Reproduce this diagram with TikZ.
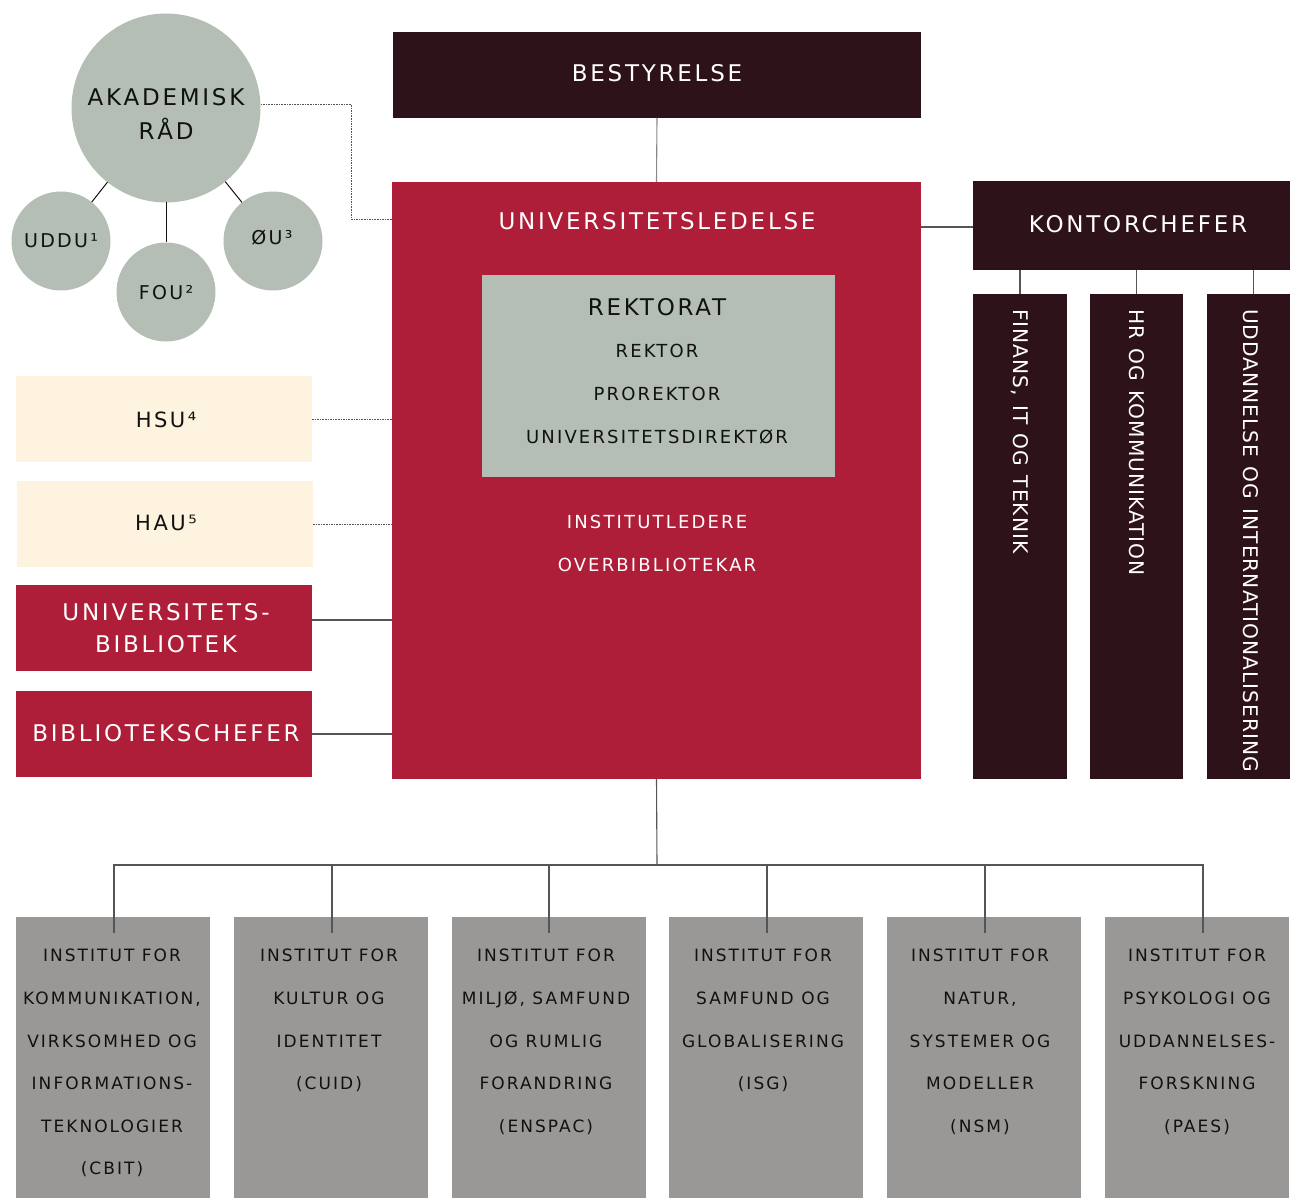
\documentclass[tikz,border=0pt]{standalone}
\usepackage{fontspec}
\setmainfont{DejaVu Sans}[LetterSpace=12]
\newfontfamily\vfont{DejaVu Sans}[LetterSpace=5,WordSpace=1.25]
\definecolor{darkm}{HTML}{2E1219}
\definecolor{unired}{HTML}{AE1E38}
\definecolor{sage}{HTML}{B5BEB4}
\definecolor{cream}{HTML}{FEF3DE}
\definecolor{instg}{HTML}{999896}
\definecolor{lnc}{HTML}{555555}
\definecolor{txt}{HTML}{111111}
\tikzset{
  boxx/.style={rectangle, inner sep=0pt, outer sep=0pt, anchor=north west},
  big/.style={font=\fontsize{23}{32}\selectfont},
  mid/.style={font=\fontsize{18}{43}\selectfont},
  small/.style={font=\fontsize{17}{42.6}\selectfont},
  vert/.style={font=\vfont\fontsize{20.2}{24}\selectfont},
  conn/.style={draw=lnc, line width=1.1pt},
  dotl/.style={draw=lnc, line width=1pt, dash pattern=on 1.6pt off 1pt},
  circ/.style={circle, fill=sage, inner sep=0pt, outer sep=0pt},
  tx/.style={inner sep=0pt, align=center},
}
\begin{document}
\begin{tikzpicture}[x=1pt,y=-1pt]
\useasboundingbox (0,0) rectangle (1290,1198);

% top
\node[boxx, fill=darkm, minimum width=528pt, minimum height=86pt] (best) at (393,32) {};
\node[tx, big, text=white] (bestt) at (657,73) {BESTYRELSE};

\node[boxx, fill=unired, minimum width=529pt, minimum height=597pt] (uni) at (392,182) {};
\node[tx, big, text=white] (unit) at (657,221) {UNIVERSITETSLEDELSE};

\node[boxx, fill=sage, minimum width=353pt, minimum height=202pt] (rek) at (482,275) {};
\node[tx, big, text=txt] (rekt) at (657,307) {REKTORAT};
\node[tx, mid, text=txt] (r1) at (657,351) {REKTOR};
\node[tx, mid, text=txt] (r2) at (657,394) {PROREKTOR};
\node[tx, mid, text=txt] (r3) at (657,437) {UNIVERSITETSDIREKTØR};
\node[tx, mid, text=white] (il) at (657,522) {INSTITUTLEDERE};
\node[tx, mid, text=white] (ob) at (657,565) {OVERBIBLIOTEKAR};

\draw[conn, draw=lnc!70] (best.south) -- (uni.north);

% kontorchefer
\node[boxx, fill=darkm, minimum width=317pt, minimum height=89pt] (kc) at (973,181) {};
\node[tx, big, text=white] (kct) at (1138,224) {KONTORCHEFER};
\draw[conn] ([yshift=-45pt]uni.north east) -- ([yshift=-46pt]kc.north west);

\node[boxx, fill=darkm, minimum width=94pt, minimum height=485pt] (k1) at (973,294) {};
\node[boxx, fill=darkm, minimum width=93pt, minimum height=485pt] (k2) at (1090,294) {};
\node[boxx, fill=darkm, minimum width=83pt, minimum height=485pt] (k3) at (1207,294) {};
\node[tx, vert, text=white, rotate=-90, anchor=west] (k1t) at (1020,309) {FINANS, IT OG TEKNIK};
\node[tx, vert, text=white, rotate=-90, anchor=west] (k2t) at (1137,309) {HR OG KOMMUNIKATION};
\node[tx, vert, text=white, rotate=-90, anchor=west] (k3t) at (1251,309) {UDDANNELSE OG INTERNATIONALISERING};
\draw[conn] (kc.south -| k1.north) -- (k1.north);
\draw[conn] (kc.south -| k2.north) -- (k2.north);
\draw[conn] ([xshift=5pt]kc.south -| k3.north) -- ([xshift=5pt]k3.north);

% circles
\node[circ, minimum size=189pt] (ak) at (166,108) {};
\node[tx, font=\fontsize{23}{34}\selectfont, text=txt] (akt) at (166,114) {AKADEMISK\\RÅD};
\node[circ, minimum size=99pt] (uddu) at (61,241) {};
\node[circ, minimum size=99pt] (fou) at (166,292) {};
\node[circ, minimum size=99pt] (oeu) at (273,241) {};
\node[tx, font=\fontsize{19}{22}\selectfont, text=txt] at (61,241) {UDDU¹};
\node[tx, font=\fontsize{19}{22}\selectfont, text=txt] at (166,293) {FOU²};
\node[tx, font=\fontsize{19}{22}\selectfont, text=txt] at (272,238) {ØU³};
\draw[line width=1pt, draw=txt] (ak) -- (uddu);
\draw[line width=1pt, draw=txt] (ak) -- (fou);
\draw[line width=1pt, draw=txt] (ak) -- (oeu);
\draw[dotl] ([yshift=3pt]ak.east) -- ++(91,0) |- ([yshift=-38pt]uni.north west);

% left boxes
\node[boxx, fill=cream, minimum width=296pt, minimum height=86pt] (hsu) at (16,376) {};
\node[tx, font=\fontsize{21}{26}\selectfont, text=txt] at (166,420) {HSU⁴};
\node[boxx, fill=cream, minimum width=296pt, minimum height=86pt] (hau) at (17,481) {};
\node[tx, font=\fontsize{21}{26}\selectfont, text=txt] at (166,523) {HAU⁵};
\node[boxx, fill=unired, minimum width=296pt, minimum height=86pt] (ub) at (16,585) {};
\node[tx, font=\fontsize{23}{32}\selectfont, text=white] at (166,628) {UNIVERSITETS-\\BIBLIOTEK};
\node[boxx, fill=unired, minimum width=296pt, minimum height=86pt] (bc) at (16,691) {};
\node[tx, big, text=white] at (166,733) {BIBLIOTEKSCHEFER};

\draw[dotl] (hsu.east) -- (hsu.east -| uni.west);
\draw[dotl] (hau.east) -- (hau.east -| uni.west);
\draw[conn] ([yshift=8pt]ub.east) -- ([yshift=8pt]ub.east -| uni.west);
\draw[conn] (bc.east) -- (bc.east -| uni.west);

% institutes
\node[boxx, fill=instg, minimum width=194pt, minimum height=281pt] (i1) at (16,917) {};
\node[boxx, fill=instg, minimum width=194pt, minimum height=281pt] (i2) at (234,917) {};
\node[boxx, fill=instg, minimum width=194pt, minimum height=281pt] (i3) at (452,917) {};
\node[boxx, fill=instg, minimum width=194pt, minimum height=281pt] (i4) at (669,917) {};
\node[boxx, fill=instg, minimum width=194pt, minimum height=281pt] (i5) at (887,917) {};
\node[boxx, fill=instg, minimum width=184pt, minimum height=281pt] (i6) at (1105,917) {};

\node[tx, small, text=txt, anchor=north] at (112,949) {INSTITUT FOR\\KOMMUNIKATION,\\VIRKSOMHED OG\\INFORMATIONS-\\TEKNOLOGIER\\(CBIT)};
\node[tx, small, text=txt, anchor=north] at (329,949) {INSTITUT FOR\\KULTUR OG\\IDENTITET\\(CUID)};
\node[tx, small, text=txt, anchor=north] at (546,949) {INSTITUT FOR\\MILJØ, SAMFUND\\OG RUMLIG\\FORANDRING\\(ENSPAC)};
\node[tx, small, text=txt, anchor=north] at (763,949) {INSTITUT FOR\\SAMFUND OG\\GLOBALISERING\\(ISG)};
\node[tx, small, text=txt, anchor=north] at (980,949) {INSTITUT FOR\\NATUR,\\SYSTEMER OG\\MODELLER\\(NSM)};
\node[tx, small, text=txt, anchor=north] at (1197,949) {INSTITUT FOR\\PSYKOLOGI OG\\UDDANNELSES-\\FORSKNING\\(PAES)};

\coordinate (bus) at (657,865);
\draw[conn] (uni.south) -- (bus);
\draw[conn] (bus) -| ([xshift=1pt,yshift=-16pt]i1.north);
\draw[conn] (bus) -| ([xshift=1pt,yshift=-16pt]i2.north);
\draw[conn] (bus) -| ([xshift=0pt,yshift=-16pt]i3.north);
\draw[conn] (bus) -| ([xshift=1pt,yshift=-16pt]i4.north);
\draw[conn] (bus) -| ([xshift=1pt,yshift=-16pt]i5.north);
\draw[conn] (bus) -| ([xshift=6pt,yshift=-16pt]i6.north);
\end{tikzpicture}
\end{document}
